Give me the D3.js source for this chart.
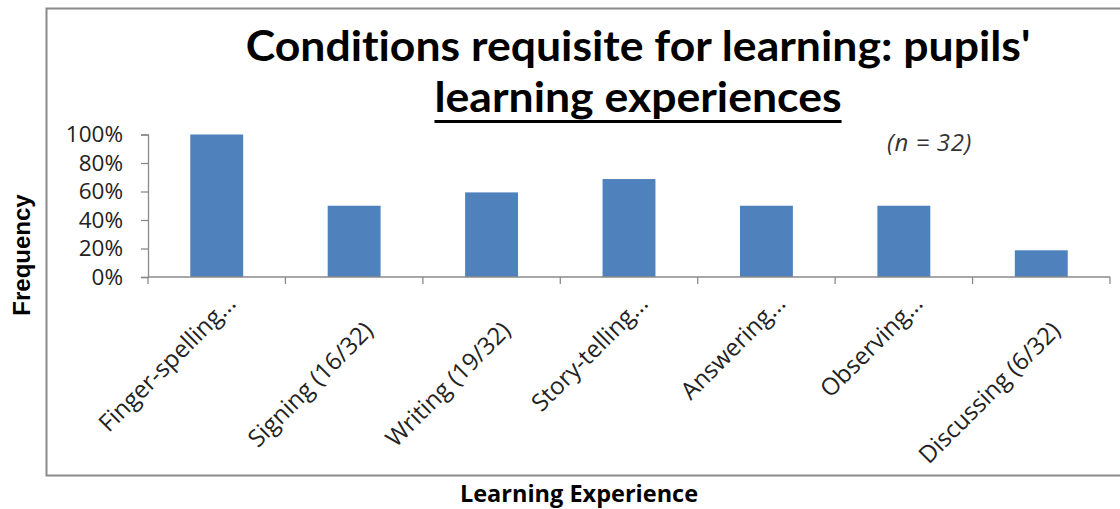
<!DOCTYPE html>
<html>
<head>
<meta charset="utf-8">
<script src="https://cdn.jsdelivr.net/npm/d3@7"></script>
<style>
  body { margin: 0; background: #fff; }
  svg { display: block; }
</style>
</head>
<body>
<div id="chart"></div>
<script>
// data (share of 32 pupils)
var categories = ["Finger-spelling...", "Signing (16/32)", "Writing (19/32)", "Story-telling...",
                  "Answering...", "Observing...", "Discussing (6/32)"];
var values = [32 / 32, 16 / 32, 19 / 32, 22 / 32, 16 / 32, 16 / 32, 6 / 32];
var yTicks = [0, 0.2, 0.4, 0.6, 0.8, 1.0];

var W = 1120, H = 509;
var margin = { top: 134.5, right: 10, bottom: 232, left: 148 },
    w = W - margin.left - margin.right,
    h = H - margin.top - margin.bottom;

var svg = d3.select('#chart')
    .append('svg')
    .attr('width', W)
    .attr('height', H);

// outer chart frame (right edge runs off the picture)
svg.append('rect')
    .attr('x', 46.5)
    .attr('y', 8.5)
    .attr('width', 1100)
    .attr('height', 467)
    .attr('fill', 'none')
    .attr('stroke', '#8a8a8a')
    .attr('stroke-width', 2);

var g = svg.append('g')
    .attr('transform', `translate(${margin.left},${margin.top})`);

var xScale = d3.scaleBand()
    .domain(categories)
    .range([0, w])
    .paddingInner(0.615)
    .paddingOuter(0.3075);

var yScale = d3.scaleLinear()
    .domain([0, 1])
    .range([h, 0]);

var step = xScale.step();

// bars
g.selectAll('.bar')
    .data(values)
    .enter()
    .append('rect')
    .attr('class', 'bar')
    .attr('x', function (d, i) { return xScale(categories[i]); })
    .attr('width', xScale.bandwidth())
    .attr('y', function (d) { return yScale(d); })
    .attr('height', function (d) { return h - yScale(d); })
    .attr('fill', '#4f81bd');

// y axis
var yAxis = d3.axisLeft(yScale)
    .tickValues(yTicks)
    .tickSize(7)
    .tickPadding(18)
    .tickFormat(d3.format('.0%'));

var yg = g.append('g').call(yAxis);
yg.select('.domain').attr('stroke', '#8a8a8a').attr('stroke-width', 1.3);
yg.selectAll('.tick line').attr('stroke', '#8a8a8a').attr('stroke-width', 1.3);
yg.selectAll('.tick text')
    .attr('fill', '#222')
    .style('font-family', '"Open Sans", sans-serif')
    .style('font-size', '22.5px');

// x axis: line plus tick marks between categories
g.append('line')
    .attr('x1', 0).attr('x2', w)
    .attr('y1', h).attr('y2', h)
    .attr('stroke', '#8a8a8a')
    .attr('stroke-width', 1.3);

g.selectAll('.xtick')
    .data(d3.range(categories.length + 1))
    .enter()
    .append('line')
    .attr('class', 'xtick')
    .attr('x1', function (i) { return i * step; })
    .attr('x2', function (i) { return i * step; })
    .attr('y1', h)
    .attr('y2', h + 7)
    .attr('stroke', '#8a8a8a')
    .attr('stroke-width', 1.3);

// truncated labels sit higher than the full ones, like in the original
g.selectAll('.xlabel')
    .data(categories)
    .enter()
    .append('text')
    .attr('class', 'xlabel')
    .attr('transform', function (d) {
        var cx = xScale(d) + xScale.bandwidth() / 2;
        var dy = d.slice(-3) === '...' ? 15 : 42;
        return `translate(${cx + 7.5},${h + dy}) rotate(-45)`;
    })
    .attr('text-anchor', 'end')
    .attr('dy', '0.76em')
    .attr('fill', '#222')
    .style('font-family', '"Open Sans", sans-serif')
    .style('font-size', '24px')
    .text(function (d) { return d; });

// title: one text, two lines, squeezed to the original width
var title = svg.append('text')
    .attr('text-anchor', 'middle')
    .style('font-family', 'Lato, "Open Sans", sans-serif')
    .style('font-weight', 'bold')
    .style('font-size', '42px')
    .style('font-variant-ligatures', 'none');

var line1 = title.append('tspan')
    .attr('x', 0).attr('y', 61)
    .text("Conditions requisite for learning: pupils'");
var line2 = title.append('tspan')
    .attr('x', 0).attr('y', 112)
    .text('learning experiences');

var sx = 785 / line1.node().getComputedTextLength();
title.attr('transform', `translate(638,0) scale(${sx},1)`);

var uw = line2.node().getComputedTextLength() * sx;
svg.append('rect')
    .attr('x', 638 - uw / 2)
    .attr('y', 120)
    .attr('width', uw)
    .attr('height', 3)
    .attr('fill', '#000');

// sample size note
svg.append('text')
    .attr('x', 887)
    .attr('y', 151)
    .attr('fill', '#333')
    .style('font-family', '"Open Sans", sans-serif')
    .style('font-style', 'italic')
    .style('font-size', '24px')
    .style('letter-spacing', '0.6px')
    .text('(n = 32)');

// axis titles
svg.append('text')
    .attr('transform', 'translate(30,255) rotate(-90)')
    .attr('text-anchor', 'middle')
    .style('font-family', '"Liberation Sans", Arial, sans-serif')
    .style('font-weight', 'bold')
    .style('font-size', '24px')
    .text('Frequency');

svg.append('text')
    .attr('x', 579)
    .attr('y', 502)
    .attr('text-anchor', 'middle')
    .style('font-family', '"Open Sans", sans-serif')
    .style('font-weight', 'bold')
    .style('font-size', '23.5px')
    .text('Learning Experience');
</script>
</body>
</html>
